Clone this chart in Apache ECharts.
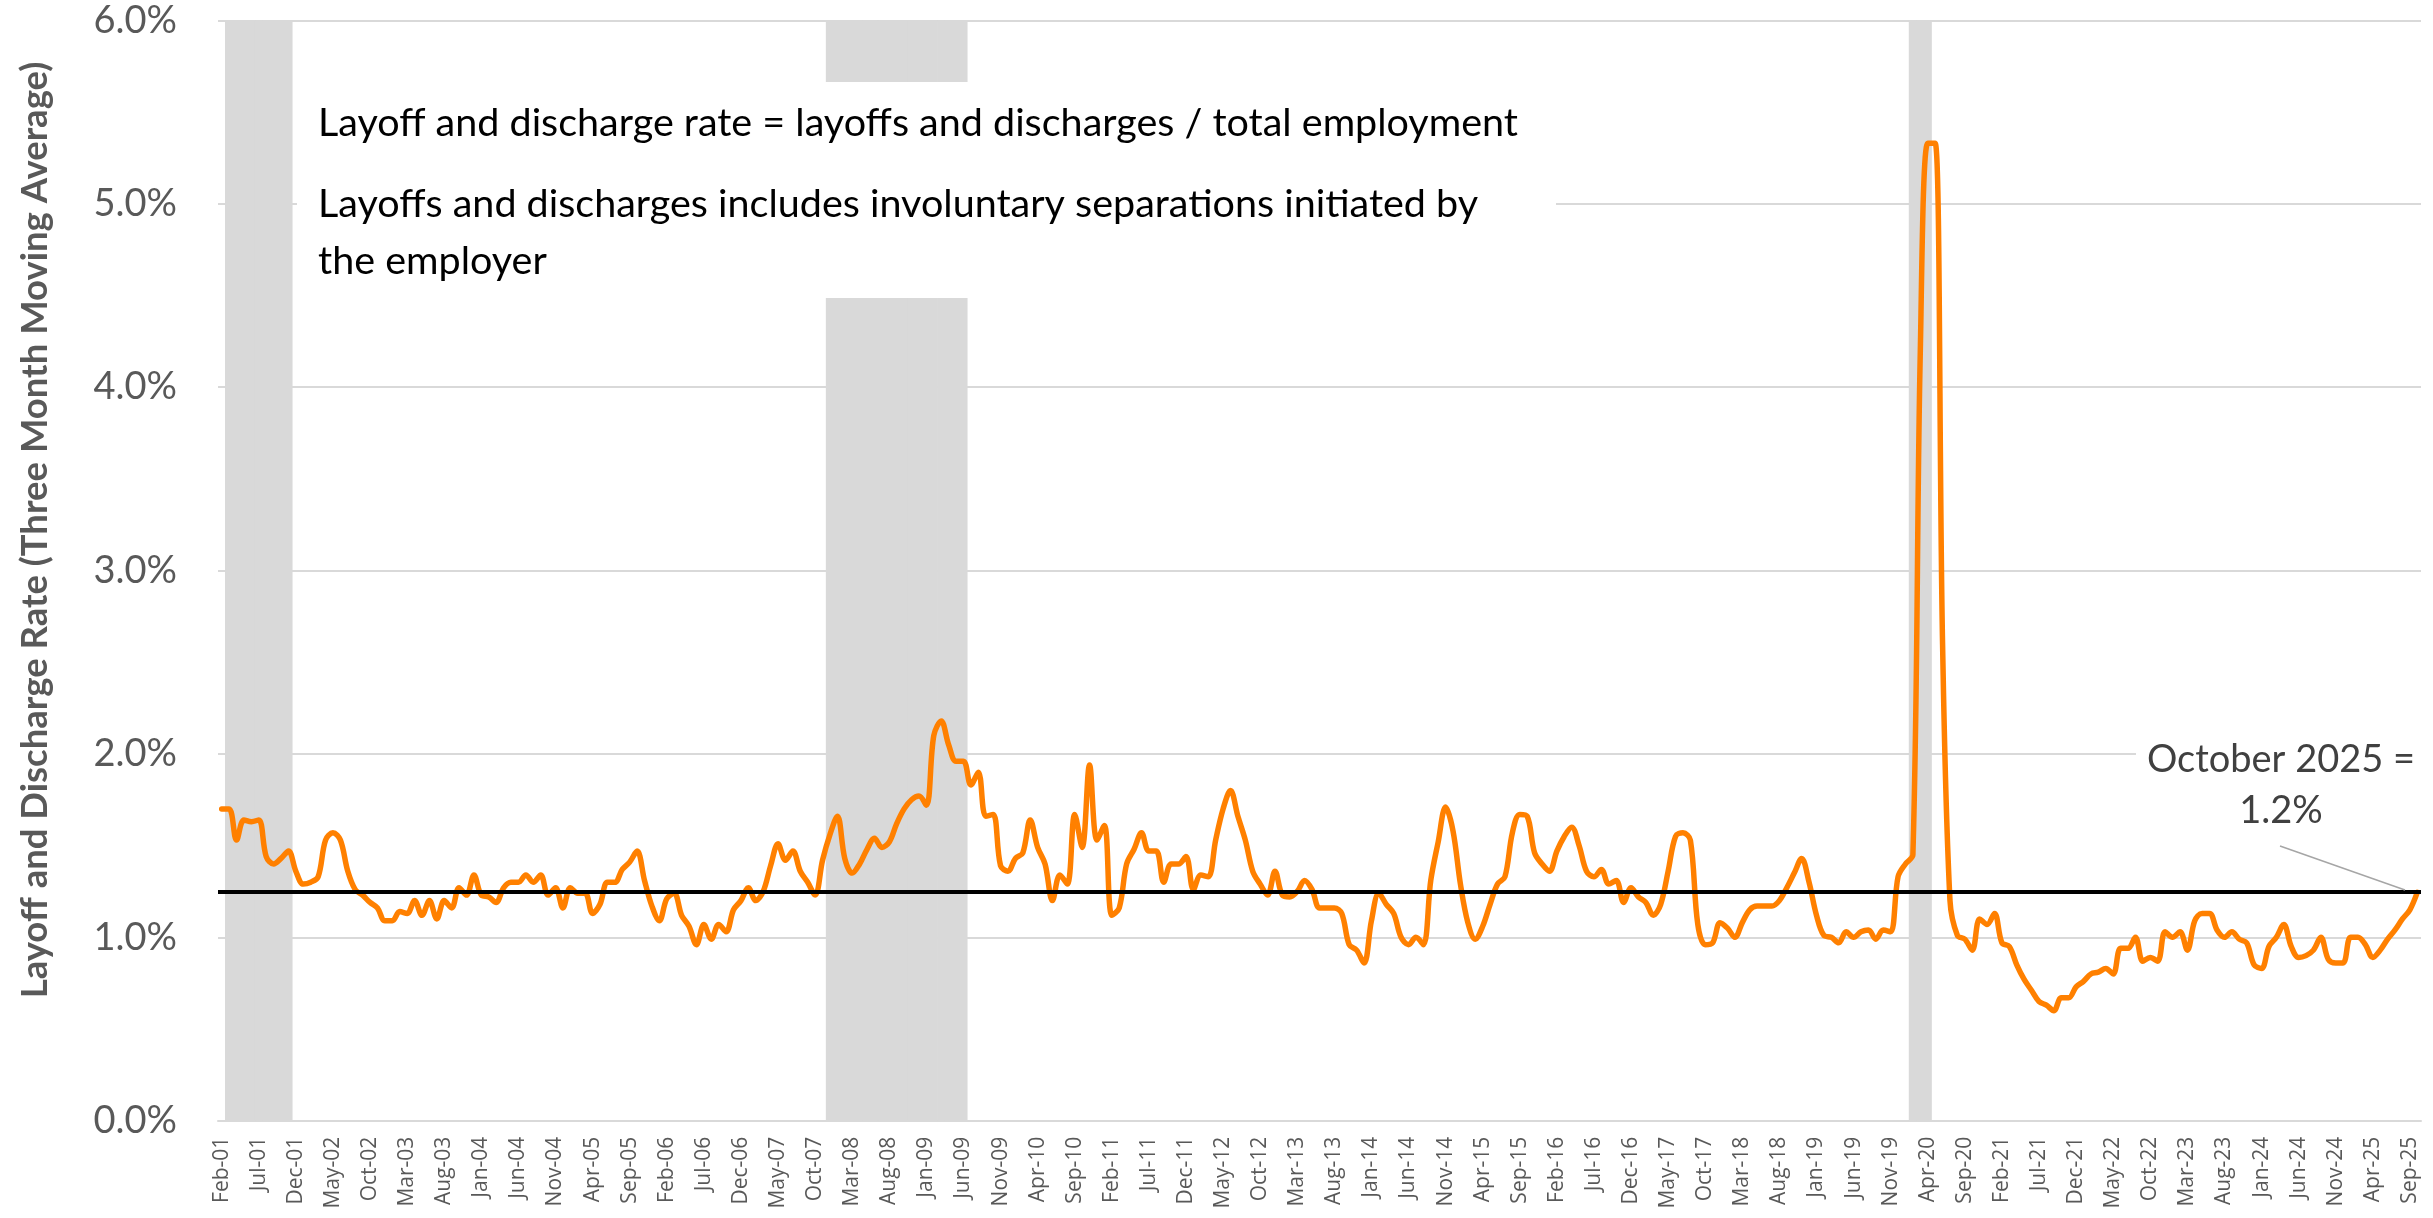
<!DOCTYPE html>
<html>
<head>
<meta charset="utf-8">
<title>Layoff and Discharge Rate</title>
<script src="https://cdn.jsdelivr.net/npm/echarts@6.0.0/dist/echarts.min.js"></script>
<style>
  html, body { margin: 0; padding: 0; background: #fff; }
  #main { width: 2433px; height: 1218px; }
</style>
</head>
<body>
<div id="main"></div>
<script>
// three month moving average, % of total employment, Feb-01 .. Oct-25
const rate2001_2008 = [
  1.70, 1.70, 1.53, 1.64, 1.63, 1.64, 1.44, 1.40, 1.43, 1.47, 1.36,
  1.29, 1.30, 1.33, 1.53, 1.57, 1.53, 1.36, 1.26, 1.23, 1.19, 1.16, 1.09,
  1.09, 1.14, 1.13, 1.20, 1.12, 1.20, 1.10, 1.20, 1.16, 1.27, 1.23, 1.34,
  1.23, 1.22, 1.19, 1.27, 1.30, 1.30, 1.34, 1.30, 1.34, 1.23, 1.27, 1.16,
  1.27, 1.24, 1.24, 1.13, 1.18, 1.30, 1.30, 1.37, 1.41, 1.47, 1.31, 1.17,
  1.09, 1.21, 1.24, 1.12, 1.06, 0.96, 1.07, 0.99, 1.07, 1.03, 1.15, 1.20,
  1.27, 1.20, 1.25, 1.39, 1.51, 1.42, 1.47, 1.36, 1.30, 1.23, 1.42, 1.56,
  1.66, 1.43, 1.35, 1.40, 1.48, 1.54, 1.49, 1.52, 1.62, 1.70, 1.75, 1.77
];
const rate2009_2016 = [
  1.72, 2.10, 2.18, 2.05, 1.96, 1.96, 1.83, 1.90, 1.66, 1.67, 1.39, 1.36,
  1.43, 1.46, 1.64, 1.49, 1.40, 1.20, 1.34, 1.29, 1.67, 1.49, 1.94, 1.53,
  1.61, 1.12, 1.16, 1.40, 1.48, 1.57, 1.47, 1.47, 1.30, 1.40, 1.40, 1.44,
  1.26, 1.34, 1.33, 1.53, 1.70, 1.80, 1.66, 1.53, 1.36, 1.29, 1.23, 1.36,
  1.23, 1.22, 1.25, 1.31, 1.26, 1.16, 1.16, 1.16, 1.13, 0.96, 0.93, 0.86,
  1.09, 1.24, 1.18, 1.13, 1.00, 0.96, 1.00, 0.96, 1.31, 1.52, 1.71, 1.58,
  1.29, 1.08, 0.99, 1.06, 1.18, 1.29, 1.33, 1.57, 1.67, 1.66, 1.46, 1.40,
  1.36, 1.47, 1.55, 1.60, 1.50, 1.36, 1.33, 1.37, 1.29, 1.31, 1.19, 1.27
];
const rate2017_2025 = [
  1.22, 1.19, 1.12, 1.18, 1.36, 1.55, 1.57, 1.53, 1.07, 0.96, 0.97, 1.08,
  1.05, 1.00, 1.08, 1.15, 1.17, 1.17, 1.17, 1.20, 1.27, 1.35, 1.43, 1.30,
  1.12, 1.01, 1.00, 0.97, 1.03, 1.00, 1.03, 1.04, 0.99, 1.04, 1.03, 1.33,
  1.40, 1.45, 4.20, 5.33, 5.33, 2.60, 1.20, 1.01, 0.99, 0.93, 1.10, 1.07,
  1.13, 0.97, 0.95, 0.85, 0.77, 0.71, 0.65, 0.63, 0.60, 0.67, 0.67, 0.73,
  0.76, 0.80, 0.81, 0.83, 0.80, 0.94, 0.94, 1.00, 0.87, 0.89, 0.87, 1.03,
  1.00, 1.03, 0.93, 1.09, 1.13, 1.13, 1.04, 1.00, 1.03, 0.99, 0.97, 0.85,
  0.83, 0.95, 1.00, 1.07, 0.95, 0.89, 0.90, 0.93, 1.00, 0.88, 0.86, 0.86,
  1.00, 1.00, 0.96, 0.89, 0.93, 0.99, 1.04, 1.10, 1.15, 1.245
];
const rate = [].concat(rate2001_2008, rate2009_2016, rate2017_2025);

// latest level, drawn as the black reference line
const currentLevel = 1.245;

// NBER recessions (shaded)
const recessions = [['Mar-01', 'Nov-01'], ['Dec-07', 'Jun-09'], ['Feb-20', 'Apr-20']];

const yTicks = [0, 1, 2, 3, 4, 5, 6];
const yMax = 6;

const monthAbbr = ['Jan', 'Feb', 'Mar', 'Apr', 'May', 'Jun', 'Jul', 'Aug', 'Sep', 'Oct', 'Nov', 'Dec'];
const months = rate.map(function (v, i) {
    let m = i + 1; // first point is Feb 2001
    let y = 2001 + Math.floor(m / 12);
    return monthAbbr[m % 12] + '-' + String(y % 100).padStart(2, '0');
});

const recessionBars = months.map(function (m, i) {
    let inside = recessions.some(function (r) {
        return i >= months.indexOf(r[0]) && i <= months.indexOf(r[1]);
    });
    return inside ? yMax : null;
});

let chartDom = document.getElementById('main');
let myChart = echarts.init(chartDom);

let option = {
    animation: false,
    backgroundColor: '#fff',
    grid: { left: 218, right: 12, top: 20.3, bottom: 97.3 },
    xAxis: {
        type: 'category',
        data: months,
        boundaryGap: true,
        axisLine: { lineStyle: { color: '#d9d9d9', width: 2 } },
        axisTick: { show: false },
        axisLabel: {
            interval: 4,
            rotate: 90,
            margin: 16,
            color: '#595959',
            fontFamily: 'Open Sans',
            fontSize: 21
        },
        splitLine: { show: false }
    },
    yAxis: {
        type: 'value',
        min: yTicks[0],
        max: yTicks[yTicks.length - 1],
        interval: 1,
        axisLine: { show: false },
        axisTick: { show: false },
        axisLabel: {
            margin: 41,
            color: '#595959',
            fontFamily: 'Lato',
            fontSize: 38,
            formatter: function (v) { return v.toFixed(1) + '%'; }
        },
        splitLine: { lineStyle: { color: '#d9d9d9', width: 2 } }
    },
    series: [
        {
            name: 'Recession',
            type: 'bar',
            data: recessionBars,
            // a little wider than one month so neighbouring bars overlap, no seams
            barWidth: 8.2,
            barGap: '-100%',
            itemStyle: { color: '#d9d9d9' },
            silent: true,
            z: 1
        },
        {
            name: 'Layoff and discharge rate',
            type: 'line',
            data: rate,
            smooth: 0.35,
            symbol: 'none',
            lineStyle: { color: '#ff8000', width: 5.5, cap: 'round', join: 'round' },
            z: 3
        },
        {
            name: 'Current level',
            type: 'line',
            data: [],
            z: 5,
            markLine: {
                silent: true,
                symbol: ['none', 'none'],
                label: { show: false },
                lineStyle: { color: '#000', width: 4, type: 'solid' },
                data: [{ yAxis: currentLevel }]
            }
        }
    ],
    graphic: [
        {
            type: 'rect', z: 100,
            shape: { x: 297, y: 82, width: 1259, height: 216 },
            style: { fill: '#fff' }
        },
        {
            type: 'text', z: 101, x: 318, y: 123,
            style: {
                text: 'Layoff and discharge rate = layoffs and discharges / total employment',
                font: '39.5px Lato', fill: '#000',
                align: 'left', verticalAlign: 'middle', textAlign: 'left', textVerticalAlign: 'middle'
            }
        },
        {
            type: 'text', z: 101, x: 318, y: 204,
            style: {
                text: 'Layoffs and discharges includes involuntary separations initiated by',
                font: '39.5px Lato', fill: '#000',
                align: 'left', verticalAlign: 'middle', textAlign: 'left', textVerticalAlign: 'middle'
            }
        },
        {
            type: 'text', z: 101, x: 318, y: 261,
            style: {
                text: 'the employer',
                font: '39.5px Lato', fill: '#000',
                align: 'left', verticalAlign: 'middle', textAlign: 'left', textVerticalAlign: 'middle'
            }
        },
        {
            type: 'rect', z: 100,
            shape: { x: 2136, y: 722, width: 297, height: 112 },
            style: { fill: '#fff' }
        },
        {
            type: 'text', z: 101, x: 2281, y: 760,
            style: {
                text: 'October 2025 =',
                font: '38px Lato', fill: '#404040',
                align: 'center', verticalAlign: 'middle', textAlign: 'center', textVerticalAlign: 'middle'
            }
        },
        {
            type: 'text', z: 101, x: 2281, y: 811,
            style: {
                text: '1.2%',
                font: '38px Lato', fill: '#404040',
                align: 'center', verticalAlign: 'middle', textAlign: 'center', textVerticalAlign: 'middle'
            }
        },
        {
            type: 'line', z: 101,
            shape: { x1: 2280, y1: 846, x2: 2405, y2: 890 },
            style: { stroke: '#a6a6a6', lineWidth: 1.5 }
        },
        {
            type: 'text', z: 101, x: 35.5, y: 530, rotation: Math.PI / 2,
            style: {
                text: 'Layoff and Discharge Rate (Three Month Moving Average)',
                font: 'bold 36.5px Lato', fill: '#595959',
                align: 'center', verticalAlign: 'middle', textAlign: 'center', textVerticalAlign: 'middle'
            }
        }
    ]
};

myChart.setOption(option);
</script>
</body>
</html>
